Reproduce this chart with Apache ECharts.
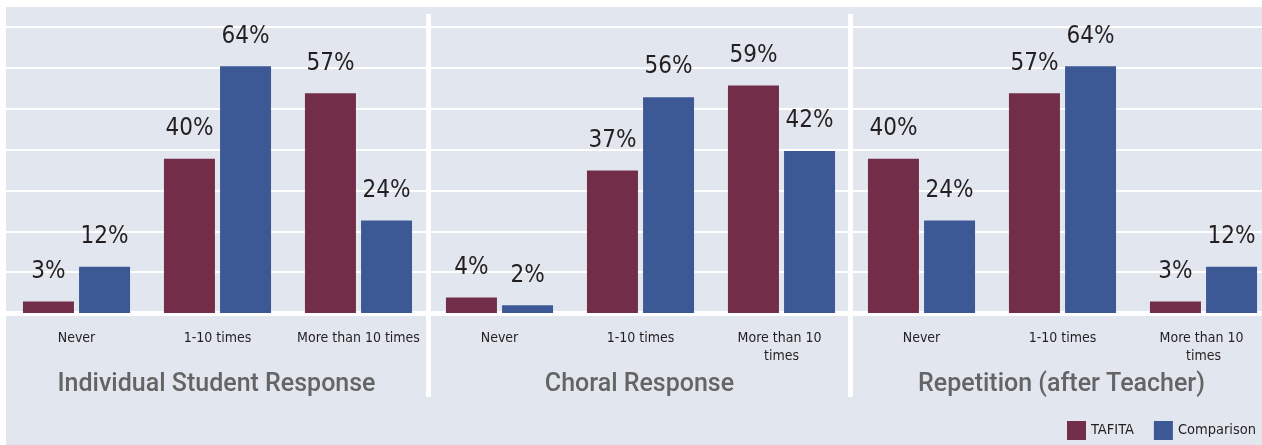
<!DOCTYPE html>
<html>
<head>
<meta charset="utf-8">
<script src="https://cdn.jsdelivr.net/npm/echarts@6/dist/echarts.min.js"></script>
<style>
  html, body { margin: 0; padding: 0; background: #fff; overflow: hidden; }
  /* original crops the last panel slightly, so draw a bit wider than the window */
  #chart { width: 1274px; height: 445px; }
</style>
</head>
<body>
<div id="chart"></div>
<script>
// categories + panel titles
const categories = ["Never", "1-10 times", "More than 10 times"];
const panelTitles = ["Individual Student Response", "Choral Response", "Repetition (after Teacher)"];
const seriesNames = ["TAFITA", "Comparison"];

// percentages
const tafitaIndividual = [3, 40, 57];
const comparisonIndividual = [12, 64, 24];
const tafitaChoral = [4, 37, 59];
const comparisonChoral = [2, 56, 42];
const tafitaRepetition = [40, 57, 3];
const comparisonRepetition = [24, 64, 12];

const panelData = [
  [tafitaIndividual, comparisonIndividual],
  [tafitaChoral, comparisonChoral],
  [tafitaRepetition, comparisonRepetition]
];

const colors = ["#722e48", "#3c5996"];
const condensed = '"DejaVu Sans Condensed", "Liberation Sans Narrow", "Roboto", sans-serif';
const bgColor = "#e2e6ef";

const gridLefts = [6, 429, 851];
const bandWidth = 423;

const grids = gridLefts.map(left => ({
  left: left,
  top: 27,
  width: bandWidth,
  height: 286
}));

const xAxes = gridLefts.map((left, i) => ({
  type: "category",
  gridIndex: i,
  data: categories,
  offset: 2.5,
  axisLine: { lineStyle: { color: "#fff", width: 5 } },
  axisTick: { show: false },
  axisLabel: {
    color: "#231f20",
    fontFamily: condensed,
    fontSize: 14,
    lineHeight: 18,
    margin: 14,
    interval: 0,
    width: i === 0 ? 140 : 112,
    overflow: "break"
  }
}));

const yAxes = gridLefts.map((left, i) => ({
  type: "value",
  gridIndex: i,
  min: 0,
  max: 74.2,
  interval: 10.6,
  axisLabel: { show: false },
  axisLine: { show: false },
  axisTick: { show: false },
  splitLine: { lineStyle: { color: "#fff", width: 2 } }
}));

const series = [];
panelData.forEach((pair, i) => {
  pair.forEach((values, s) => {
    series.push({
      name: seriesNames[s],
      type: "bar",
      xAxisIndex: i,
      yAxisIndex: i,
      data: values,
      barWidth: 51,
      barGap: "10%",
      itemStyle: { color: colors[s] },
      label: {
        show: true,
        position: "top",
        distance: 18,
        formatter: "{c}%",
        color: "#231f20",
        fontFamily: condensed,
        fontSize: 24
      }
    });
  });
});

const titles = panelTitles.map((t, i) => ({
  text: t,
  left: gridLefts[i] + bandWidth / 2 - 6,
  top: 367,
  textAlign: "center",
  textStyle: {
    color: "#646464",
    fontFamily: "Roboto, sans-serif",
    fontWeight: 500,
    fontSize: 25
  }
}));

const separator = x => ({
  type: "rect",
  shape: { x: x, y: 14, width: 5, height: 383 },
  style: { fill: "#fff" },
  z: 100
});

const chart = echarts.init(document.getElementById("chart"));
chart.setOption({
  backgroundColor: bgColor,
  animation: false,
  title: titles,
  grid: grids,
  xAxis: xAxes,
  yAxis: yAxes,
  legend: {
    data: seriesNames,
    right: 13,
    top: 416,
    itemWidth: 19,
    itemHeight: 19,
    itemGap: 20,
    icon: "rect",
    textStyle: { color: "#231f20", fontFamily: condensed, fontSize: 14.5 }
  },
  graphic: [
    { type: "rect", shape: { x: 0, y: 0, width: 1274, height: 7 }, style: { fill: "#fff" }, z: 100 },
    { type: "rect", shape: { x: 0, y: 0, width: 6, height: 445 }, style: { fill: "#fff" }, z: 100 },
    separator(426),
    separator(848)
  ],
  series: series
});
</script>
</body>
</html>
